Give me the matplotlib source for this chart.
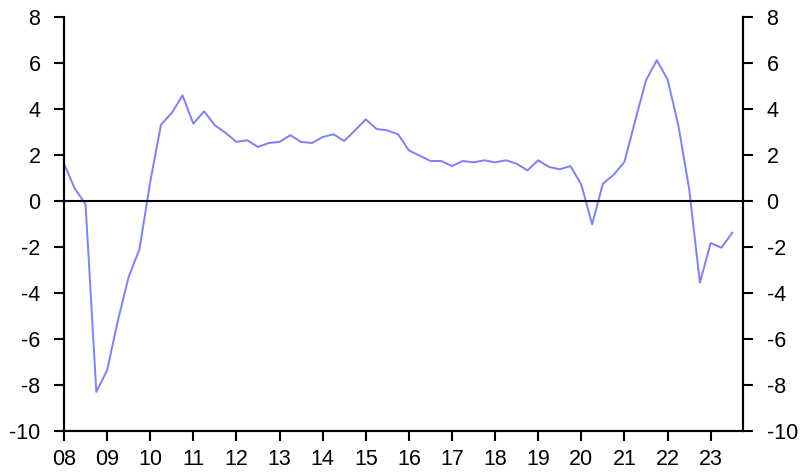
import matplotlib
matplotlib.use("Agg")
import matplotlib.pyplot as plt

plt.rcParams['font.family'] = ['Liberation Sans', 'DejaVu Sans']
plt.rcParams['axes.unicode_minus'] = False

# quarterly data, 2008 Q1 .. 2023 Q3
start_year = 2008
valores = [1.62, 0.54, -0.14, -8.3,
           -7.36, -5.2, -3.3, -2.1,
           0.83, 3.32, 3.83, 4.59,
           3.36, 3.9, 3.29, 2.96,
           2.57, 2.64, 2.35, 2.52,
           2.57, 2.86, 2.57, 2.52,
           2.78, 2.9, 2.61, 3.07,
           3.55, 3.13, 3.07, 2.9,
           2.2, 1.97, 1.74, 1.74,
           1.52, 1.74, 1.68, 1.77,
           1.68, 1.77, 1.62, 1.33,
           1.77, 1.48, 1.38, 1.52,
           0.71, -1.01, 0.75, 1.14,
           1.7, 3.5, 5.25, 6.12,
           5.29, 3.29, 0.54, -3.55,
           -1.83, -2.03, -1.38]
fechas = [start_year + i * 0.25 for i in range(len(valores))]

years = list(range(2008, 2024))
xlabels = ["%02d" % (y % 100) for y in years]
yticks = list(range(-10, 9, 2))

fig = plt.figure(figsize=(8.11, 4.74), dpi=100)
ax = fig.add_axes([64/811, 1-431/474, (743-64)/811, (431-17)/474])

ax.plot(fechas, valores, color='#7f7fff', linewidth=1.4)
ax.axhline(0, color='black', linewidth=1.5)

ax.set_xlim(2008, 2023.75)
ax.set_ylim(-10, 8)
ax.set_xticks(years)
ax.set_xticklabels(xlabels)
ax.set_yticks(yticks)

ax2 = ax.twinx()
ax2.set_ylim(-10, 8)
ax2.set_yticks(yticks)

for a in (ax, ax2):
    a.spines['top'].set_visible(False)
    for s in ('left', 'right', 'bottom'):
        a.spines[s].set_linewidth(1.5)
    a.tick_params(axis='both', length=7, width=1.5, labelsize=15.5, pad=6)
ax.tick_params(axis='y', pad=10)
ax2.tick_params(axis='y', pad=10)

fig.savefig("out.png", dpi=100)
